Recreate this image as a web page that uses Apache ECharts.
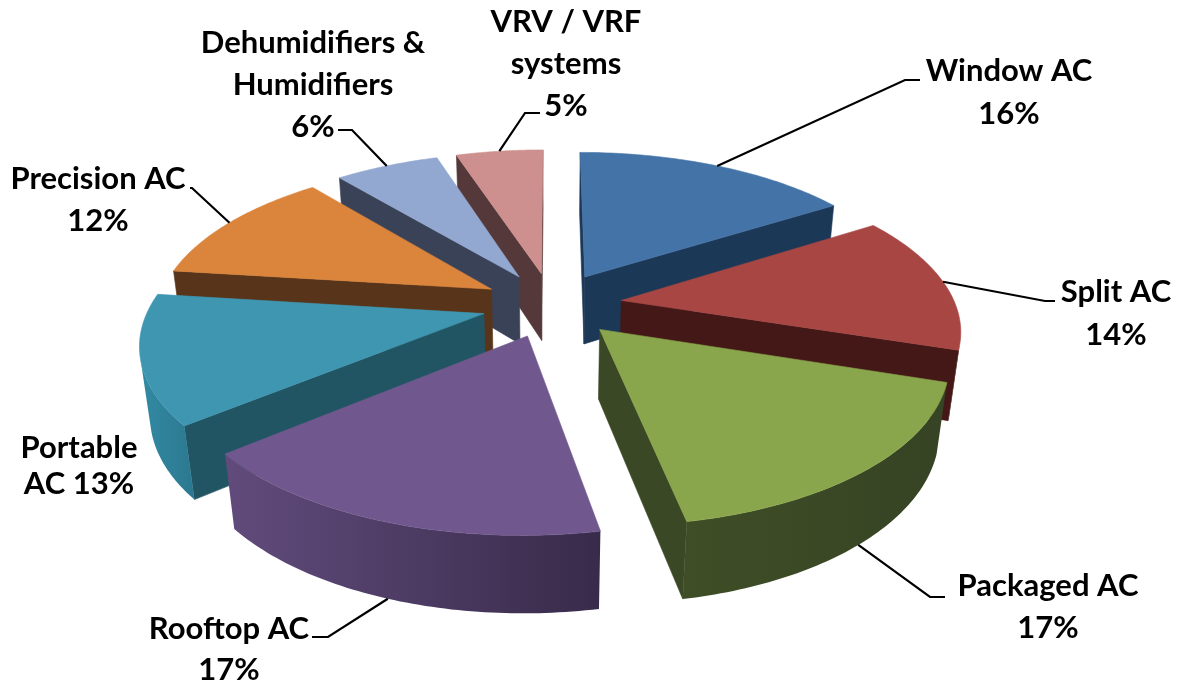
<!DOCTYPE html>
<html><head><meta charset="utf-8">
<style>html,body{margin:0;padding:0;background:#fff}#c{width:1182px;height:683px}</style>
<script src="https://cdn.jsdelivr.net/npm/echarts@6/dist/echarts.min.js"></script>
</head><body><div id="c"></div>
<script>
const categories = ['Window AC','Split AC','Packaged AC','Rooftop AC','Portable AC','Precision AC','Dehumidifiers & Humidifiers','VRV / VRF systems'];
const shares = [16,14,17,17,13,12,6,5];
const labelTexts = ['Window AC\n16%','Split AC\n14%','Packaged AC\n17%','Rooftop AC\n17%','Portable\nAC 13%','Precision AC\n12%','Dehumidifiers &\nHumidifiers\n6%','VRV / VRF\nsystems\n5%'];
const topColors = ['#4473a8','#a84644','#8aa64c','#70588f','#3f96b0','#da843c','#92a8d0','#ce908e'];
const sideColors = ['#1c3857','#431816','#3b4825','#4a3a60','#215564','#58351a','#3a4258','#55393a'];
const rimStart = ['#2f5580','#5a2220','#3f4e26','#614b7c','#338aa3','#9a5c28','#5f6f8f','#8a5f5e'];
const rimEnd = ['#1c3857','#431816','#364324','#382b4a','#2b7890','#58351a','#3a4258','#55393a'];
/* layout of labels: centre x, centre y, line height; leader elbow and end; which face the leader starts on */
const labelLayout = [
 {x:1009,y:92,lh:43,elbow:[905,80],end:[920,80],bottom:0},
 {x:1116,y:313,lh:43,elbow:[1045,301],end:[1055,301],bottom:0},
 {x:1048,y:607,lh:42,elbow:[930,597],end:[945,597],bottom:1},
 {x:229,y:649,lh:41,elbow:[328,637],end:[312,637],bottom:1},
 {x:79,y:466,lh:36,elbow:null,end:null,bottom:0},
 {x:98,y:200,lh:42,elbow:[192,188],end:[190,188],bottom:0},
 {x:313,y:85,lh:42,elbow:[352,130],end:[338,130],bottom:0},
 {x:566,y:64,lh:42,elbow:[525,113],end:[540,113],bottom:0}
];
/* projection constants */
const CX=552, CY=304.5, RX=334, RY=154, K=0.168, M=0.025, H=70, EXPLODE=0.21;
function project(x,y,z){const w=1+K*y+M*z;return [CX+RX*x/w, CY-RY*y/w+H*z/w];}

const total = shares.reduce((a,b)=>a+b,0);
let cum=0;
const slices = shares.map((v,i)=>{const a0=cum/total*2*Math.PI;cum+=v;const a1=cum/total*2*Math.PI;const mid=(a0+a1)/2;
  return {i,a0,a1,mid,ox:EXPLODE*Math.sin(mid),oy:EXPLODE*Math.cos(mid)};});
const order = slices.slice().sort((p,q)=>Math.cos(q.mid)-Math.cos(p.mid)).map(s=>s.i);
function area(p){let s=0;for(let i=0;i<p.length;i++){const a=p[i],b=p[(i+1)%p.length];s+=a[0]*b[1]-b[0]*a[1];}return s/2;}
function poly(points,fill,z2,stroke){return {type:'polygon',shape:{points},z2,style:{fill,stroke:stroke||fill,lineWidth:0.6}};}

function renderSlice(params,api){
  const s=slices[api.value(0)], i=s.i, N=64, children=[];
  const pt=(r,a,z)=>project(s.ox+r*Math.sin(a),s.oy+r*Math.cos(a),z);
  const topArc=[],botArc=[];
  for(let n=0;n<=N;n++){const a=s.a0+(s.a1-s.a0)*n/N;topArc.push(pt(1,a,0));botArc.push(pt(1,a,1));}
  const apexT=pt(0,0,0), apexB=pt(0,0,1);
  const f0=[apexT,topArc[0],botArc[0],apexB], f1=[apexT,apexB,botArc[N],topArc[N]];
  if(area(f0)<0)children.push(poly(f0,sideColors[i],1));
  if(area(f1)<0)children.push(poly(f1,sideColors[i],1));
  const runTop=[],runBot=[];
  for(let n=0;n<N;n++){const q=[topArc[n],topArc[n+1],botArc[n+1],botArc[n]];
    if(area(q)<0){ if(!runTop.length){runTop.push(q[0]);runBot.push(q[3]);} runTop.push(q[1]);runBot.push(q[2]); }}
  if(runTop.length){
    const rim=runTop.concat(runBot.slice().reverse());
    const xs=rim.map(p=>p[0]);
    const grad=new echarts.graphic.LinearGradient(Math.min(...xs),0,Math.max(...xs),0,
      [{offset:0,color:rimStart[i]},{offset:1,color:rimEnd[i]}],true);
    children.push({type:'polygon',shape:{points:rim},z2:2,style:{fill:grad}});
  }
  children.push(poly([apexT].concat(topArc),topColors[i],3));
  return {type:'group',children};
}
function renderLabel(params,api){
  const i=api.value(0), s=slices[i], L=labelLayout[i], children=[];
  if(L.end){
    const start=project(s.ox+Math.sin(s.mid),s.oy+Math.cos(s.mid),L.bottom);
    children.push({type:'polyline',shape:{points:[start,L.elbow,L.end]},style:{stroke:'#000',lineWidth:2.2,fill:null}});
  }
  children.push({type:'text',style:{text:labelTexts[i],x:L.x,y:L.y,align:'center',verticalAlign:'middle',
    fontFamily:'Lato',fontWeight:'bold',fontSize:31,lineHeight:L.lh,fill:'#000'}});
  return {type:'group',children};
}
const chart=echarts.init(document.getElementById('c'),null,{renderer:'canvas'});
chart.setOption({
  animation:false,backgroundColor:'#fff',
  series:[
   {type:'custom',name:'Share',coordinateSystem:'none',renderItem:renderSlice,silent:true,
    data:order.map(i=>({name:categories[i],value:[i,shares[i]]}))},
   {type:'custom',name:'Labels',coordinateSystem:'none',renderItem:renderLabel,silent:true,z:5,
    data:shares.map((v,i)=>({name:categories[i],value:[i,v]}))}
  ]
});
</script></body></html>
